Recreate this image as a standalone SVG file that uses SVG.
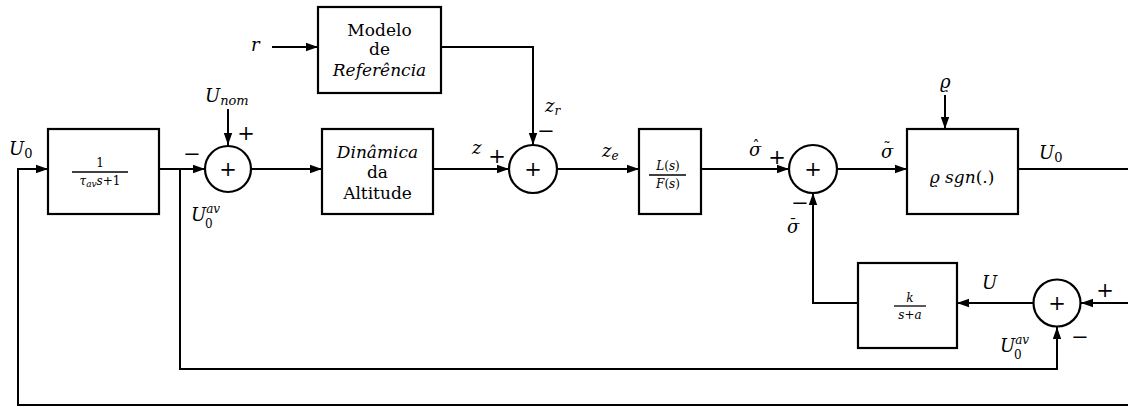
<svg xmlns="http://www.w3.org/2000/svg" width="1128" height="407" viewBox="0 0 1128 407">
<style>
.blk{fill:#fff;stroke:#000;stroke-width:2.2}
.sum{fill:#fff;stroke:#000;stroke-width:2.2}
.ln{fill:none;stroke:#000;stroke-width:2}
.bar{stroke:#000;stroke-width:1.3}
.t{font-size:17px;text-anchor:middle}
.i{font-style:italic}
.m{font-size:18px;font-style:italic}
.f{font-size:12px;text-anchor:middle}
.pl{font-size:21px;text-anchor:middle}
.sg{font-size:17px}
.sub{font-size:12px}
</style>
<defs>
<marker id="ar" viewBox="0 0 12 10" refX="12" refY="5" markerWidth="12" markerHeight="10" markerUnits="userSpaceOnUse" orient="auto">
<path d="M0,0.8 L12,5 L0,9.2 Z" fill="#000"/>
</marker>
</defs>
<g id="connectors">
<path class="ln" d="M272 47 H318" marker-end="url(#ar)"/>
<path class="ln" d="M441 47 H533 V145" marker-end="url(#ar)"/>
<path class="ln" d="M159 169 H205" marker-end="url(#ar)"/>
<path class="ln" d="M228 109 V145" marker-end="url(#ar)"/>
<path class="ln" d="M251 169 H322" marker-end="url(#ar)"/>
<path class="ln" d="M433 169 H509" marker-end="url(#ar)"/>
<path class="ln" d="M557 169 H639" marker-end="url(#ar)"/>
<path class="ln" d="M701 169 H789" marker-end="url(#ar)"/>
<path class="ln" d="M837 169 H907" marker-end="url(#ar)"/>
<path class="ln" d="M945 95 V129" marker-end="url(#ar)"/>
<path class="ln" d="M1018 169 H1128"/>
<path class="ln" d="M1128 303 H1081" marker-end="url(#ar)"/>
<path class="ln" d="M1033 303 H957" marker-end="url(#ar)"/>
<path class="ln" d="M858 303 H813 V193" marker-end="url(#ar)"/>
<path class="ln" d="M180 169 V369 H1057 V327" marker-end="url(#ar)"/>
<path class="ln" d="M1128 405 H18 V169 H48" marker-end="url(#ar)"/>
</g>
<g font-family="'DejaVu Serif', 'Liberation Serif', serif" fill="#000">
<g id="filtro">
<rect class="blk" x="48" y="129" width="111" height="85"/>
<text class="f" x="100" y="167">1</text>
<line class="bar" x1="72" y1="172" x2="128" y2="172"/>
<text class="f" x="100" y="185"><tspan class="i">τ</tspan><tspan class="i" font-size="9" dy="2">av</tspan><tspan class="i" dy="-2">s</tspan>+1</text>
</g>
<g id="soma1">
<circle class="sum" cx="228" cy="169" r="23"/>
<text class="pl" x="228" y="176">+</text>
</g>
<g id="modelo">
<rect class="blk" x="318" y="7" width="123" height="86"/>
<text class="t" x="379.5" y="36">Modelo</text>
<text class="t" x="379.5" y="55">de</text>
<text class="t i" x="379.5" y="76">Referência</text>
</g>
<g id="dinamica">
<rect class="blk" x="322" y="129" width="111" height="85"/>
<text class="t i" x="377.5" y="158">Dinâmica</text>
<text class="t" x="377.5" y="178">da</text>
<text class="t" x="377.5" y="199">Altitude</text>
</g>
<g id="soma2">
<circle class="sum" cx="533" cy="169" r="24"/>
<text class="pl" x="533" y="176">+</text>
</g>
<g id="lf">
<rect class="blk" x="639" y="129" width="62" height="85"/>
<text class="f" x="668" y="170"><tspan class="i">L</tspan>(<tspan class="i">s</tspan>)</text>
<line class="bar" x1="649" y1="175" x2="686" y2="175"/>
<text class="f" x="668" y="188"><tspan class="i">F</tspan>(<tspan class="i">s</tspan>)</text>
</g>
<g id="soma3">
<circle class="sum" cx="813" cy="169" r="24"/>
<text class="pl" x="813" y="176">+</text>
</g>
<g id="sgn">
<rect class="blk" x="907" y="129" width="111" height="85"/>
<text class="sg" x="962" y="183" text-anchor="middle"><tspan class="i">ϱ sgn</tspan>(.)</text>
</g>
<g id="filtro2">
<rect class="blk" x="858" y="263" width="99" height="85"/>
<text class="f i" x="910" y="302">k</text>
<line class="bar" x1="894" y1="306" x2="926" y2="306"/>
<text class="f" x="910" y="319"><tspan class="i">s</tspan>+<tspan class="i">a</tspan></text>
</g>
<g id="soma4">
<circle class="sum" cx="1057" cy="303" r="23.5"/>
<text class="pl" x="1057" y="310">+</text>
</g>
<g id="labels">
<text class="m" x="9" y="155">U<tspan font-style="normal" font-size="13" dy="3">0</tspan></text>
<text class="m" x="205" y="102">U<tspan font-size="13" dy="3">nom</tspan></text>
<text class="pl" x="246" y="140">+</text>
<text class="pl" x="192" y="161">−</text>
<text class="m" x="191" y="221">U<tspan class="sub" dy="-8">av</tspan><tspan class="sub" font-style="normal" x="205" dy="15">0</tspan></text>
<text class="m" x="251" y="51">r</text>
<text class="m" x="472" y="154">z</text>
<text class="pl" x="497" y="163">+</text>
<text class="m" x="545" y="112">z<tspan class="sub" dy="3">r</tspan></text>
<text class="pl" x="546" y="138">−</text>
<text class="m" x="602" y="157">z<tspan class="sub" dy="3">e</tspan></text>
<text class="m" x="749" y="156">σ<tspan font-style="normal" font-size="15" dx="-9" dy="-5">ˆ</tspan></text>
<text class="pl" x="777" y="164">+</text>
<text class="pl" x="800" y="210">−</text>
<text class="m" x="787" y="233">σ<tspan font-style="normal" font-size="15" dx="-10" dy="-4">¯</tspan></text>
<text class="m" x="881" y="158">σ<tspan font-style="normal" font-size="15" dx="-10" dy="-5">˜</tspan></text>
<text class="m" x="940" y="88">ϱ</text>
<text class="m" x="1039" y="159">U<tspan font-style="normal" font-size="13" dy="3">0</tspan></text>
<text class="m" x="982" y="289">U</text>
<text class="pl" x="1105" y="297">+</text>
<text class="pl" x="1080" y="344">−</text>
<text class="m" x="1000" y="352">U<tspan class="sub" dy="-8">av</tspan><tspan class="sub" font-style="normal" x="1014" dy="15">0</tspan></text>
</g>
</g>
</svg>
